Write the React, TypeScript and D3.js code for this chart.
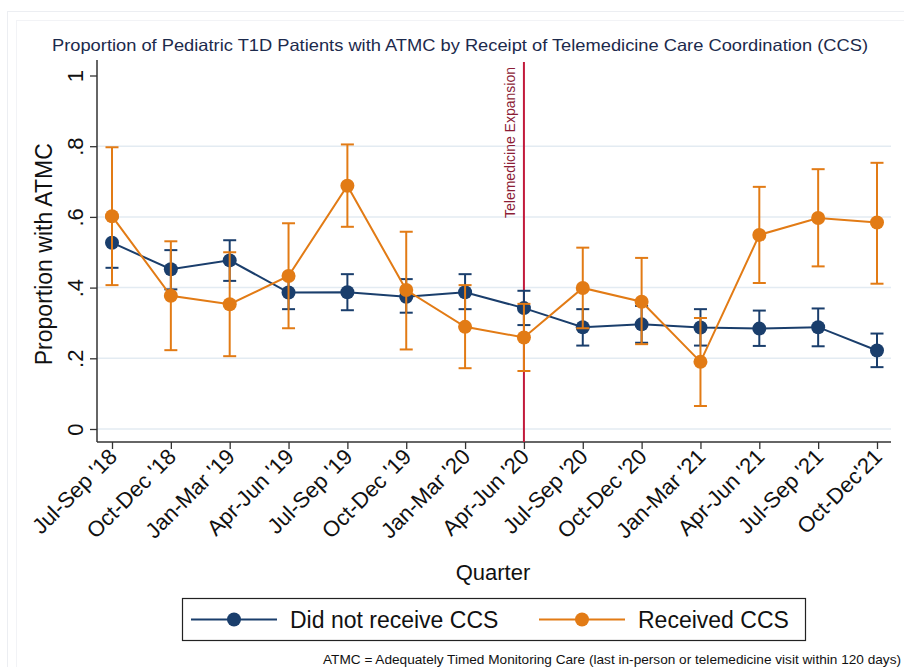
import { useEffect, useRef } from 'react';
import * as d3 from 'd3';

const quarters = [
  "Jul-Sep '18", "Oct-Dec '18", "Jan-Mar '19", "Apr-Jun '19", "Jul-Sep '19",
  "Oct-Dec '19", "Jan-Mar '20", "Apr-Jun '20", "Jul-Sep '20", "Oct-Dec '20",
  "Jan-Mar '21", "Apr-Jun '21", "Jul-Sep '21", "Oct-Dec'21",
];

// did not receive CCS
const noCcs = [0.527, 0.452, 0.477, 0.386, 0.387, 0.374, 0.387, 0.342, 0.288, 0.296, 0.287, 0.284, 0.288, 0.222];
const noCcsLow = [0.456, 0.395, 0.419, 0.339, 0.336, 0.329, 0.339, 0.294, 0.236, 0.244, 0.236, 0.235, 0.234, 0.175];
const noCcsHigh = [0.598, 0.506, 0.534, 0.433, 0.438, 0.424, 0.438, 0.391, 0.339, 0.348, 0.339, 0.335, 0.341, 0.27];

// received CCS
const ccs = [0.602, 0.377, 0.353, 0.433, 0.688, 0.393, 0.289, 0.259, 0.399, 0.36, 0.19, 0.549, 0.597, 0.584];
const ccsLow = [0.407, 0.223, 0.206, 0.285, 0.572, 0.225, 0.172, 0.164, 0.285, 0.24, 0.065, 0.413, 0.46, 0.411];
const ccsHigh = [0.797, 0.531, 0.5, 0.582, 0.805, 0.558, 0.407, 0.354, 0.513, 0.484, 0.314, 0.685, 0.735, 0.753];

const yTicks = [0, 0.2, 0.4, 0.6, 0.8, 1];
const yTickLabels = ['0', '.2', '.4', '.6', '.8', '1'];
const gridTicks = [0, 0.2, 0.4, 0.6, 0.8];
const eventQuarter = "Apr-Jun '20";

const NAVY = '#1a3e6c';
const ORANGE = '#e27b15';
const FONT = '"Liberation Sans", Arial, sans-serif';

const App = () => {
  const svgRef = useRef<SVGSVGElement>(null);

  useEffect(() => {
    const width = 904;
    const height = 667;
    const svg = d3.select(svgRef.current);
    svg.selectAll('*').remove();
    svg.attr('width', width).attr('height', height);

    svg.append('rect').attr('width', width).attr('height', height).attr('fill', '#fff');
    // faint outer frames
    svg.append('rect').attr('x', 7.5).attr('y', 11.5).attr('width', 920).attr('height', 700)
      .attr('fill', 'none').attr('stroke', '#eceef2');
    svg.append('rect').attr('x', 16.5).attr('y', 20.5).attr('width', 920).attr('height', 700)
      .attr('fill', 'none').attr('stroke', '#f2f3f6');

    const left = 97, right = 891, top = 60, bottom = 442;

    const x = d3.scalePoint<string>().domain(quarters).range([112, 877]);
    const y = d3.scaleLinear().domain([0, 1]).range([429, 75.5]);

    // title
    svg.append('text')
      .attr('x', 460).attr('y', 51)
      .attr('text-anchor', 'middle')
      .attr('font-family', FONT).attr('font-size', 16.5)
      .attr('fill', '#1c2a4c')
      .attr('textLength', 816).attr('lengthAdjust', 'spacingAndGlyphs')
      .text('Proportion of Pediatric T1D Patients with ATMC by Receipt of Telemedicine Care Coordination (CCS)');

    // grid
    svg.append('g').selectAll('line').data(gridTicks).enter().append('line')
      .attr('x1', left).attr('x2', right)
      .attr('y1', d => y(d)).attr('y2', d => y(d))
      .attr('stroke', '#e3ebf2').attr('stroke-width', 1.5);

    // y axis
    const yAxis = svg.append('g').attr('transform', `translate(${left},0)`)
      .call(d3.axisLeft(y).tickValues(yTicks).tickSize(7).tickFormat((_, i) => yTickLabels[i]));
    yAxis.select('.domain').attr('d', `M0,${top}V${bottom}`).attr('stroke', '#333').attr('stroke-width', 1.5);
    yAxis.selectAll('.tick line').attr('stroke', '#333').attr('stroke-width', 1.3);
    yAxis.selectAll('.tick text')
      .attr('font-family', FONT).attr('font-size', 22).attr('fill', '#111')
      .attr('x', null).attr('dy', null)
      .attr('text-anchor', 'middle')
      .attr('transform', 'translate(-14,0) rotate(-90)');

    svg.append('text')
      .attr('transform', `translate(52,${(y(0) + y(1)) / 2 + 2}) rotate(-90)`)
      .attr('text-anchor', 'middle')
      .attr('font-family', FONT).attr('font-size', 23).attr('fill', '#111')
      .text('Proportion with ATMC');

    // x axis
    const xAxis = svg.append('g').attr('transform', `translate(0,${bottom})`)
      .call(d3.axisBottom(x).tickSize(7).tickSizeOuter(0));
    xAxis.select('.domain').attr('d', `M${left},0H${right}`).attr('stroke', '#333').attr('stroke-width', 1.5);
    xAxis.selectAll('.tick line').attr('stroke', '#333').attr('stroke-width', 1.3);
    xAxis.selectAll('.tick text')
      .attr('font-family', FONT).attr('font-size', 22).attr('fill', '#111')
      .attr('y', null).attr('dy', null)
      .attr('text-anchor', 'end')
      .attr('transform', 'translate(6,16) rotate(-45)');

    svg.append('text')
      .attr('x', 493).attr('y', 580)
      .attr('text-anchor', 'middle')
      .attr('font-family', FONT).attr('font-size', 22).attr('fill', '#111')
      .text('Quarter');

    // telemedicine expansion marker
    const ex = x(eventQuarter)!;
    svg.append('line')
      .attr('x1', ex).attr('x2', ex).attr('y1', 62).attr('y2', bottom)
      .attr('stroke', '#c21a3b').attr('stroke-width', 2);
    svg.append('text')
      .attr('transform', `translate(${ex - 9},67) rotate(-90)`)
      .attr('text-anchor', 'end')
      .attr('font-family', FONT).attr('font-size', 14).attr('fill', '#8c1d36')
      .text('Telemedicine Expansion');

    const series = [
      { name: 'Did not receive CCS', values: noCcs, low: noCcsLow, high: noCcsHigh, color: NAVY },
      { name: 'Received CCS', values: ccs, low: ccsLow, high: ccsHigh, color: ORANGE },
    ];

    const line = d3.line<number>()
      .x((_, i) => x(quarters[i])!)
      .y(d => y(d));

    series.forEach(s => {
      const g = svg.append('g');
      const cap = 6.5;
      const bars = g.append('g').attr('stroke', s.color).attr('stroke-width', 2).attr('fill', 'none');
      quarters.forEach((q, i) => {
        const cx = x(q)!;
        bars.append('line').attr('x1', cx).attr('x2', cx).attr('y1', y(s.low[i])).attr('y2', y(s.high[i]));
        bars.append('line').attr('x1', cx - cap).attr('x2', cx + cap).attr('y1', y(s.low[i])).attr('y2', y(s.low[i]));
        bars.append('line').attr('x1', cx - cap).attr('x2', cx + cap).attr('y1', y(s.high[i])).attr('y2', y(s.high[i]));
      });
      g.append('path').attr('d', line(s.values))
        .attr('fill', 'none').attr('stroke', s.color).attr('stroke-width', 2);
      g.selectAll('circle').data(s.values).enter().append('circle')
        .attr('cx', (_, i) => x(quarters[i])!)
        .attr('cy', d => y(d))
        .attr('r', 7)
        .attr('fill', s.color);
    });

    // legend
    const legend = svg.append('g');
    legend.append('rect')
      .attr('x', 182.5).attr('y', 598.5).attr('width', 623).attr('height', 42)
      .attr('fill', '#fff').attr('stroke', '#222').attr('stroke-width', 1.2);
    const legendX = [191, 539];
    series.forEach((s, i) => {
      const lx = legendX[i];
      legend.append('line').attr('x1', lx).attr('x2', lx + 86).attr('y1', 619.5).attr('y2', 619.5)
        .attr('stroke', s.color).attr('stroke-width', 2);
      legend.append('circle').attr('cx', lx + 43).attr('cy', 619.5).attr('r', 7).attr('fill', s.color);
      legend.append('text')
        .attr('x', lx + 99).attr('y', 628)
        .attr('font-family', FONT).attr('font-size', 23).attr('fill', '#111')
        .text(s.name);
    });

    svg.append('text')
      .attr('x', 323).attr('y', 664)
      .attr('font-family', FONT).attr('font-size', 13.6).attr('fill', '#111')
      .attr('textLength', 578).attr('lengthAdjust', 'spacingAndGlyphs')
      .text('ATMC = Adequately Timed Monitoring Care (last in-person or telemedicine visit within 120 days)');
  }, []);

  return <svg ref={svgRef} style={{ display: 'block', position: 'absolute', left: 0, top: 0 }} />;
};

export default App;
